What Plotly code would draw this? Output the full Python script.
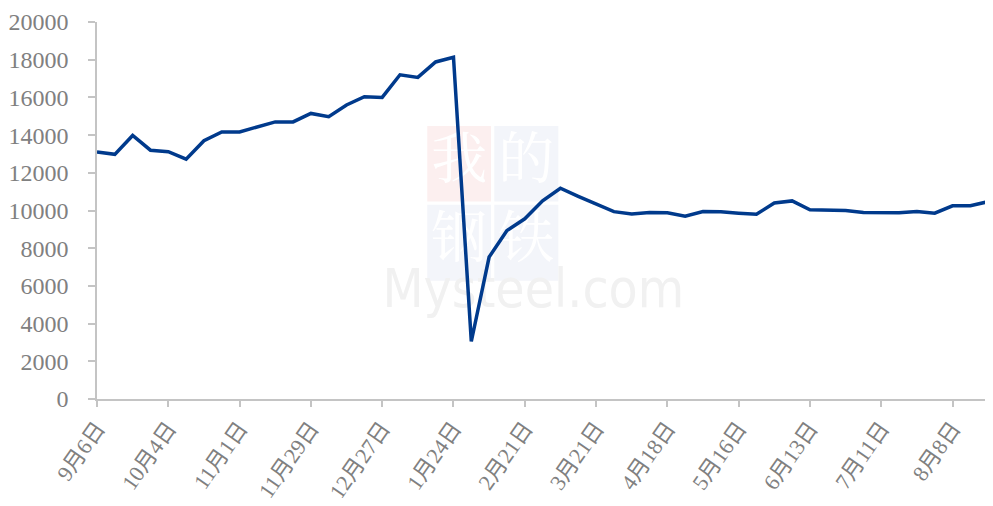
import plotly.graph_objects as go

# ---- data ----
dates = [
    "9月6日", "9月13日", "9月20日", "9月27日",
    "10月4日", "10月11日", "10月18日", "10月25日",
    "11月1日", "11月8日", "11月15日", "11月22日",
    "11月29日", "12月6日", "12月13日", "12月20日",
    "12月27日", "1月3日", "1月10日", "1月17日",
    "1月24日", "1月31日", "2月7日", "2月14日",
    "2月21日", "2月28日", "3月7日", "3月14日",
    "3月21日", "3月28日", "4月4日", "4月11日",
    "4月18日", "4月25日", "5月2日", "5月9日",
    "5月16日", "5月23日", "5月30日", "6月6日",
    "6月13日", "6月20日", "6月27日", "7月4日",
    "7月11日", "7月18日", "7月25日", "8月1日",
    "8月8日", "8月15日", "8月22日",
]
values = [
    13100, 12980, 13980, 13200, 13120, 12720, 13700, 14170, 14170, 14420,
    14700, 14700, 15150, 14980, 15600, 16040, 16000, 17200, 17060, 17880,
    18130, 3050, 7530, 8940, 9560, 10510, 11180, 10750, 10350, 9940,
    9820, 9900, 9880, 9700, 9950, 9930, 9860, 9800, 10400, 10510,
    10040, 10020, 10000, 9900, 9880, 9880, 9950, 9860, 10250, 10250,
    10470,
]
x_tick_labels = dates[::4]
y_ticks = [0, 2000, 4000, 6000, 8000, 10000, 12000, 14000, 16000, 18000, 20000]

# watermark text
wm_chars = ["我", "的", "钢", "铁"]
wm_brand = ["Mysteel.com"]

AXIS_GRAY = "#c4c4c4"
LABEL_GRAY = "#808080"
LINE_BLUE = "#003a8c"
SERIF = "Liberation Serif, Times New Roman, Noto Sans CJK SC, serif"
Y_TICK_FONT = dict(family=SERIF, size=24, color=LABEL_GRAY)
X_TICK_FONT = dict(family=SERIF, size=22, color=LABEL_GRAY)

fig = go.Figure()

# watermark (drawn on the base subplot, beneath the data line)
box_x = [0.4042, 0.4792, 0.4042, 0.4792]
box_y = [0.624, 0.624, 0.414, 0.414]
fig.add_trace(go.Scatter(
    x=box_x, y=box_y, mode="text", text=wm_chars,
    textfont=dict(family="Noto Serif CJK SC, Noto Sans CJK SC", size=56, color="#ffffff"),
    hoverinfo="skip", showlegend=False, cliponaxis=False,
    xaxis="x", yaxis="y",
))
fig.add_trace(go.Scatter(
    x=[0.487], y=[0.278], mode="text", text=wm_brand,
    textfont=dict(family="Liberation Sans Narrow, DejaVu Sans Condensed, Liberation Sans, sans-serif",
                  size=53, color="#f1f1f1"),
    hoverinfo="skip", showlegend=False, cliponaxis=False,
    xaxis="x", yaxis="y",
))

# data line
fig.add_trace(go.Scatter(
    x=dates, y=values, mode="lines",
    line=dict(color=LINE_BLUE, width=3.5),
    showlegend=False, xaxis="x2", yaxis="y2",
))

boxes = [
    (0.3686, 0.4397, 0.5237, 0.7244, "#fcefef"),
    (0.4434, 0.5149, 0.5237, 0.7244, "#f3f5fa"),
    (0.3686, 0.4397, 0.3135, 0.5150, "#f3f5fa"),
    (0.4434, 0.5149, 0.3135, 0.5150, "#f3f5fa"),
]
shapes = [
    dict(type="rect", xref="paper", yref="paper", x0=a, x1=b, y0=c, y1=d,
         fillcolor=col, line=dict(width=0), layer="below")
    for a, b, c, d, col in boxes
]

# The page body has an 8px default margin; size the figure so it fits the window.
fig.update_layout(
    width=985, height=490,
    margin=dict(l=89, r=0, t=14, b=99, autoexpand=False),
    paper_bgcolor="white", plot_bgcolor="white",
    shapes=shapes,
    xaxis=dict(domain=[0, 1], range=[0, 1], visible=False, fixedrange=True),
    yaxis=dict(domain=[0, 1], range=[0, 1], visible=False, fixedrange=True),
    xaxis2=dict(
        overlaying="x", anchor="y2", type="category",
        range=[0, 50.27], automargin=False,
        tickmode="array", tickvals=x_tick_labels, ticktext=x_tick_labels,
        tickangle=-55, tickfont=X_TICK_FONT,
        showline=True, linecolor=AXIS_GRAY, linewidth=1.5,
        ticks="outside", ticklen=6, tickcolor=AXIS_GRAY, tickwidth=1.5,
        showgrid=False, zeroline=False,
    ),
    yaxis2=dict(
        overlaying="y", anchor="x2", side="left",
        range=[0, 20000], automargin=False,
        tickmode="array", tickvals=y_ticks, ticktext=[str(v) for v in y_ticks],
        tickfont=Y_TICK_FONT,
        showline=True, linecolor=AXIS_GRAY, linewidth=1.5,
        ticks="outside", ticklen=7, tickcolor=AXIS_GRAY, tickwidth=1.5,
        ticklabelstandoff=15,
        showgrid=False, zeroline=False,
    ),
)

fig.write_html("out.html")
